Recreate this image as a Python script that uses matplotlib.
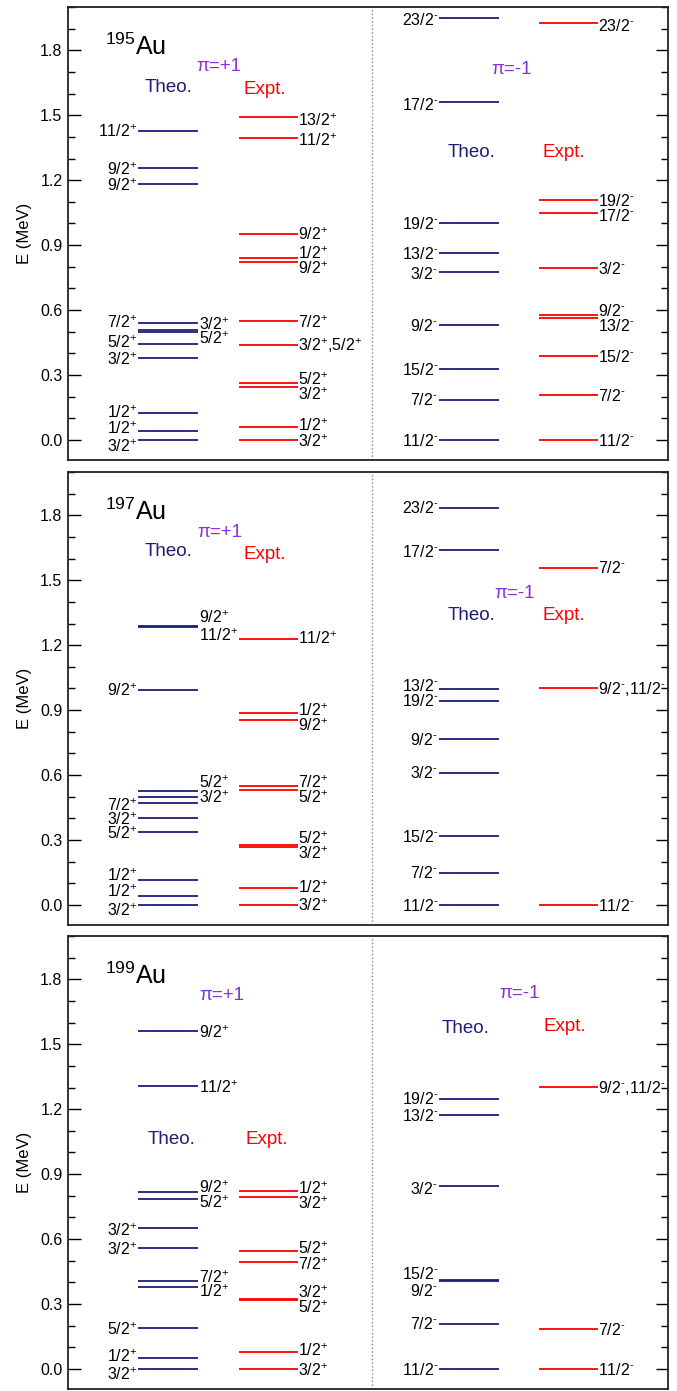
import re
import matplotlib
matplotlib.use('Agg')
import matplotlib.pyplot as plt
from matplotlib.ticker import MultipleLocator, FormatStrFormatter

plt.rcParams['font.family'] = ['Liberation Sans', 'DejaVu Sans']
plt.rcParams['mathtext.fontset'] = 'custom'
plt.rcParams['mathtext.rm'] = 'Liberation Sans'
plt.rcParams['mathtext.it'] = 'Liberation Sans:italic'
plt.rcParams['mathtext.bf'] = 'Liberation Sans:bold'

theo_color = '#1E1E78'
expt_color = '#FF0000'
pi_color = '#8833DD'

# ---------------- data: level energies (MeV) and spins ----------------
# 195Au
theo195_pos_e = [1.427, 1.257, 1.184, 0.538, 0.507, 0.500, 0.443, 0.378, 0.123, 0.043, 0.0]
theo195_pos_j = ['11/2+', '9/2+', '9/2+', '7/2+', '3/2+', '5/2+', '5/2+', '3/2+', '1/2+', '1/2+', '3/2+']
expt195_pos_e = [1.490, 1.397, 0.953, 0.840, 0.820, 0.549, 0.438, 0.261, 0.243, 0.061, 0.0]
expt195_pos_j = ['13/2+', '11/2+', '9/2+', '1/2+', '9/2+', '7/2+', '3/2+,5/2+', '5/2+', '3/2+', '1/2+', '3/2+']
theo195_neg_e = [1.950, 1.560, 1.004, 0.864, 0.777, 0.529, 0.328, 0.186, 0.0]
theo195_neg_j = ['23/2-', '17/2-', '19/2-', '13/2-', '3/2-', '9/2-', '15/2-', '7/2-', '11/2-']
expt195_neg_e = [1.927, 1.109, 1.048, 0.792, 0.575, 0.561, 0.388, 0.206, 0.0]
expt195_neg_j = ['23/2-', '19/2-', '17/2-', '3/2-', '9/2-', '13/2-', '15/2-', '7/2-', '11/2-']

# 197Au
theo197_pos_e = [1.290, 1.283, 0.991, 0.528, 0.499, 0.471, 0.401, 0.338, 0.114, 0.043, 0.0]
theo197_pos_j = ['9/2+', '11/2+', '9/2+', '5/2+', '3/2+', '7/2+', '3/2+', '5/2+', '1/2+', '1/2+', '3/2+']
expt197_pos_e = [1.229, 0.888, 0.856, 0.548, 0.530, 0.278, 0.269, 0.077, 0.0]
expt197_pos_j = ['11/2+', '1/2+', '9/2+', '7/2+', '5/2+', '5/2+', '3/2+', '1/2+', '3/2+']
theo197_neg_e = [1.835, 1.640, 0.997, 0.943, 0.766, 0.611, 0.319, 0.149, 0.0]
theo197_neg_j = ['23/2-', '17/2-', '13/2-', '19/2-', '9/2-', '3/2-', '15/2-', '7/2-', '11/2-']
expt197_neg_e = [1.558, 1.001, 0.0]
expt197_neg_j = ['7/2-', '9/2-,11/2-', '11/2-']

# 199Au
theo199_pos_e = [1.563, 1.307, 0.817, 0.787, 0.651, 0.558, 0.407, 0.380, 0.187, 0.052, 0.0]
theo199_pos_j = ['9/2+', '11/2+', '9/2+', '5/2+', '3/2+', '3/2+', '7/2+', '1/2+', '5/2+', '1/2+', '3/2+']
expt199_pos_e = [0.821, 0.792, 0.543, 0.494, 0.325, 0.318, 0.077, 0.0]
expt199_pos_j = ['1/2+', '3/2+', '5/2+', '7/2+', '3/2+', '5/2+', '1/2+', '3/2+']
theo199_neg_e = [1.247, 1.172, 0.843, 0.412, 0.406, 0.209, 0.0]
theo199_neg_j = ['19/2-', '13/2-', '3/2-', '15/2-', '9/2-', '7/2-', '11/2-']
expt199_neg_e = [1.301, 0.185, 0.0]
expt199_neg_j = ['9/2-,11/2-', '7/2-', '11/2-']

# ---------------- layout: label side and vertical nudge (px) ----------------
theo195_pos_side = 'LLLLRRLLLLL'
theo195_pos_dy = [0, -1, -2, 1, 6, -7, 2, -1, 1, 2, -6]
expt195_pos_dy = [-3, -3, -1, 5, -6, -1, 0, 4, -7, 1, -1]
theo195_neg_dy = [-1, -2, -1, 0, -2, 0, 0, 0, 0]
expt195_neg_dy = [-2, 0, -2, 0, 5, -7, 0, 0, 0]

theo197_pos_side = 'RRLRRLLLLLL'
theo197_pos_dy = [8, -8, 0, 8, 0, -2, -1, -2, 5, 4, -5]
expt197_pos_dy = [1, 2, -6, 4, -7, 6, -7, 1, 0]
theo197_neg_dy = [0, -1, 4, 0, 0, 0, 0, 0, 0]
expt197_neg_dy = [0, 0, 0]

theo199_pos_side = 'RRRRLLRRLLL'
theo199_pos_dy = [-2, -1, 5, -4, -2, -1, 4, -5, -1, 1, -5]
expt199_pos_dy = [3, -6, 3, -2, 6, -7, 2, -1]
theo199_neg_dy = [1, 0, -2, 6, -9, 0, 0]
expt199_neg_dy = [0, 0, 0]

# column x ranges (axis units 0..10)
theo_l = (1.17, 2.17)
expt_l = (2.85, 3.83)
theo_r = (6.18, 7.18)
expt_r = (7.85, 8.83)
divider = 5.07

label_fs = 11.5
tick_fs = 11.5
head_fs = 13.5


def spin_text(s):
    s = s.replace('+', r'$^{+}$')
    return s.replace('-', r'$^{\text{-}}$')


def draw_levels(ax, energies, spins, xr, color, sides, dys):
    ax.hlines(energies, xr[0], xr[1], color=color, lw=1.3)
    for e, j, side, dy in zip(energies, spins, sides, dys):
        yoff = dy * 0.72 - 0.358 * label_fs
        if side == 'L':
            ax.annotate(spin_text(j), xy=(xr[0], e), xytext=(-0.5, yoff),
                        textcoords='offset points', ha='right', va='baseline',
                        fontsize=label_fs)
        else:
            ax.annotate(spin_text(j), xy=(xr[1], e), xytext=(0.5, yoff),
                        textcoords='offset points', ha='left', va='baseline',
                        fontsize=label_fs)


panels = [
    dict(mass='195', top=7,
         sets=[(theo195_pos_e, theo195_pos_j, theo_l, theo_color, theo195_pos_side, theo195_pos_dy),
               (expt195_pos_e, expt195_pos_j, expt_l, expt_color, 'R' * 20, expt195_pos_dy),
               (theo195_neg_e, theo195_neg_j, theo_r, theo_color, 'L' * 20, theo195_neg_dy),
               (expt195_neg_e, expt195_neg_j, expt_r, expt_color, 'R' * 20, expt195_neg_dy)],
         au=(0.62, 1.778), pip=(2.52, 1.723), tl=(1.67, 1.629), el=(3.28, 1.62),
         pin=(7.40, 1.709), tr=(6.73, 1.33), er=(8.27, 1.33)),
    dict(mass='197', top=472,
         sets=[(theo197_pos_e, theo197_pos_j, theo_l, theo_color, theo197_pos_side, theo197_pos_dy),
               (expt197_pos_e, expt197_pos_j, expt_l, expt_color, 'R' * 20, expt197_pos_dy),
               (theo197_neg_e, theo197_neg_j, theo_r, theo_color, 'L' * 20, theo197_neg_dy),
               (expt197_neg_e, expt197_neg_j, expt_r, expt_color, 'R' * 20, expt197_neg_dy)],
         au=(0.62, 1.777), pip=(2.53, 1.72), tl=(1.67, 1.631), el=(3.28, 1.62),
         pin=(7.45, 1.44), tr=(6.73, 1.336), er=(8.27, 1.336)),
    dict(mass='199', top=936,
         sets=[(theo199_pos_e, theo199_pos_j, theo_l, theo_color, theo199_pos_side, theo199_pos_dy),
               (expt199_pos_e, expt199_pos_j, expt_l, expt_color, 'R' * 20, expt199_pos_dy),
               (theo199_neg_e, theo199_neg_j, theo_r, theo_color, 'L' * 20, theo199_neg_dy),
               (expt199_neg_e, expt199_neg_j, expt_r, expt_color, 'R' * 20, expt199_neg_dy)],
         au=(0.62, 1.778), pip=(2.57, 1.727), tl=(1.73, 1.058), el=(3.32, 1.058),
         pin=(7.52, 1.735), tr=(6.62, 1.574), er=(8.28, 1.581)),
]

W, H = 677, 1391
fig = plt.figure(figsize=(W / 100, H / 100), dpi=100)

for p in panels:
    bottom = (H - (p['top'] + 453)) / H
    ax = fig.add_axes([68 / W, bottom, 600 / W, 453 / H])
    ax.set_xlim(0, 10)
    ax.set_ylim(-0.093, 2.0)

    for e, j, xr, c, sides, dys in p['sets']:
        draw_levels(ax, e, j, xr, c, sides, dys)

    ax.axvline(divider, color='#888888', ls=':', lw=1)

    ax.text(*p['au'], '$^{' + p['mass'] + '}$Au', fontsize=18, ha='left', va='baseline')
    ax.text(*p['pip'], 'π=+1', color=pi_color, fontsize=head_fs, ha='center', va='center')
    ax.text(*p['pin'], 'π=-1', color=pi_color, fontsize=head_fs, ha='center', va='center')
    ax.text(*p['tl'], 'Theo.', color=theo_color, fontsize=head_fs, ha='center', va='center')
    ax.text(*p['el'], 'Expt.', color=expt_color, fontsize=head_fs, ha='center', va='center')
    ax.text(*p['tr'], 'Theo.', color=theo_color, fontsize=head_fs, ha='center', va='center')
    ax.text(*p['er'], 'Expt.', color=expt_color, fontsize=head_fs, ha='center', va='center')

    ax.yaxis.set_major_locator(MultipleLocator(0.3))
    ax.yaxis.set_minor_locator(MultipleLocator(0.1))
    ax.yaxis.set_major_formatter(FormatStrFormatter('%.1f'))
    ax.tick_params(axis='y', which='both', direction='in', left=True, right=True,
                   labelsize=tick_fs, pad=4)
    ax.tick_params(axis='y', which='major', length=9, width=1)
    ax.tick_params(axis='y', which='minor', length=5, width=1)
    ax.set_xticks([])
    for s in ax.spines.values():
        s.set_linewidth(1.3)
        s.set_color('#222222')
    ax.set_ylabel('E (MeV)', fontsize=12, labelpad=6)

fig.savefig('out.png', dpi=100)
